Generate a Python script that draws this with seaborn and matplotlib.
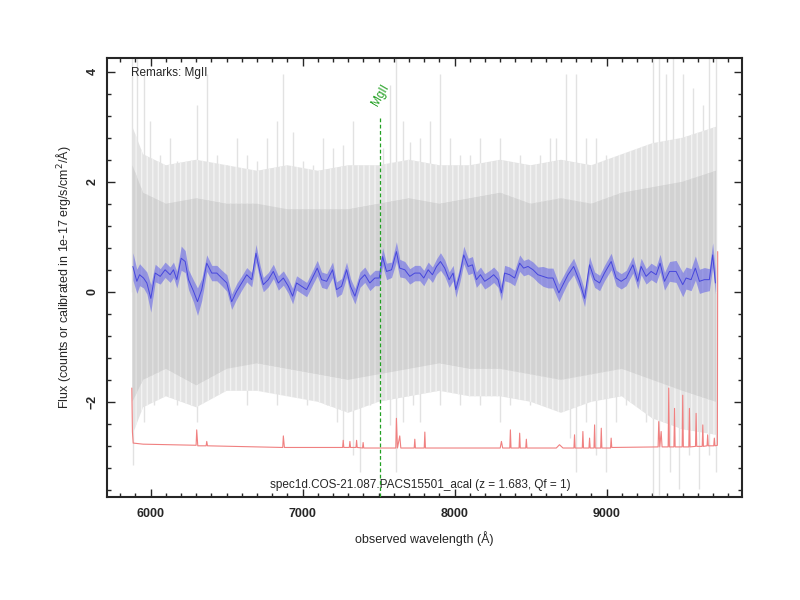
import matplotlib
matplotlib.use("Agg")
import matplotlib.pyplot as plt
from matplotlib.ticker import MultipleLocator
import seaborn as sns
import pandas as pd

# smoothed spectrum (blue) and its 1-sigma band
blue_wave = [5883, 5909, 5927, 5953, 5975, 6001, 6030, 6063, 6095, 6128, 6150, 6172,
             6201, 6227, 6249, 6282, 6308, 6336, 6369, 6402, 6435, 6468, 6501, 6533,
             6566, 6599, 6632, 6665, 6693, 6720, 6741, 6774, 6807, 6840, 6873, 6906,
             6934, 6960, 6993, 7026, 7059, 7096, 7125, 7158, 7197, 7223, 7256, 7289,
             7315, 7344, 7377, 7409, 7442, 7475, 7504, 7526, 7552, 7585, 7617, 7639,
             7672, 7705, 7738, 7771, 7797, 7826, 7854, 7881, 7907, 7935, 7964, 7990,
             8008, 8034, 8060, 8089, 8117, 8143, 8170, 8198, 8231, 8257, 8286, 8308,
             8329, 8362, 8395, 8428, 8454, 8483, 8516, 8548, 8581, 8614, 8647, 8686,
             8713, 8746, 8783, 8822, 8855, 8888, 8921, 8954, 8986, 9030, 9063, 9096,
             9129, 9173, 9205, 9227, 9260, 9293, 9326, 9352, 9381, 9414, 9457, 9501,
             9523, 9556, 9584, 9611, 9643, 9676, 9698, 9716]
blue_flux = [0.46, 0.19, 0.31, 0.25, 0.16, -0.12, 0.34, 0.28, 0.40, 0.31, 0.40, 0.22,
             0.61, 0.55, 0.22, 0.01, -0.18, 0.04, 0.52, 0.34, 0.34, 0.25, 0.16, -0.18,
             0.01, 0.16, 0.31, 0.22, 0.70, 0.34, 0.13, 0.22, 0.37, 0.16, 0.25, 0.10,
             -0.08, 0.16, 0.10, 0.04, 0.22, 0.43, 0.22, 0.19, 0.40, 0.04, 0.10, 0.40,
             0.10, -0.08, 0.22, 0.31, 0.16, 0.25, 0.25, 0.64, 0.37, 0.40, 0.73, 0.43,
             0.40, 0.28, 0.34, 0.34, 0.25, 0.40, 0.31, 0.46, 0.55, 0.43, 0.22, 0.34,
             0.04, 0.31, 0.67, 0.46, 0.49, 0.22, 0.31, 0.19, 0.25, 0.31, 0.22, -0.02,
             0.34, 0.31, 0.25, 0.52, 0.43, 0.46, 0.40, 0.31, 0.28, 0.25, 0.25, -0.02,
             0.13, 0.31, 0.46, 0.19, -0.12, 0.49, 0.22, 0.16, 0.34, 0.55, 0.25, 0.19,
             0.25, 0.49, 0.19, 0.46, 0.28, 0.37, 0.31, 0.52, 0.19, 0.37, 0.37, 0.13,
             0.25, 0.22, 0.43, 0.19, 0.22, 0.22, 0.67, 0.16]
blue_err = [0.25, 0.22, 0.20, 0.18, 0.20, 0.25, 0.16, 0.14, 0.14, 0.14, 0.14, 0.15,
            0.22, 0.20, 0.18, 0.20, 0.25, 0.20, 0.15, 0.14, 0.14, 0.14, 0.15, 0.14,
            0.14, 0.13, 0.13, 0.13, 0.16, 0.14, 0.13, 0.13, 0.13, 0.13, 0.13, 0.13,
            0.14, 0.13, 0.13, 0.13, 0.13, 0.14, 0.14, 0.14, 0.14, 0.14, 0.14, 0.14,
            0.14, 0.14, 0.14, 0.14, 0.14, 0.14, 0.14, 0.16, 0.15, 0.14, 0.18, 0.16,
            0.15, 0.14, 0.14, 0.14, 0.14, 0.14, 0.14, 0.14, 0.16, 0.15, 0.14, 0.14,
            0.14, 0.14, 0.16, 0.15, 0.15, 0.14, 0.14, 0.14, 0.14, 0.14, 0.14, 0.14,
            0.14, 0.14, 0.14, 0.15, 0.14, 0.14, 0.14, 0.14, 0.18, 0.18, 0.18, 0.16,
            0.15, 0.14, 0.15, 0.14, 0.15, 0.15, 0.14, 0.14, 0.14, 0.15, 0.14, 0.14,
            0.14, 0.15, 0.14, 0.15, 0.14, 0.15, 0.15, 0.16, 0.16, 0.18, 0.20, 0.22,
            0.20, 0.20, 0.22, 0.22, 0.22, 0.20, 0.22, 0.20]

# raw spectrum (grey): dense core band, looser middle band, outer spikes
band_wave = [5880, 5950, 6100, 6300, 6500, 6700, 6900, 7100, 7300, 7500, 7700,
             7900, 8100, 8300, 8500, 8700, 8900, 9100, 9300, 9500, 9720]
core_hi = [2.3, 1.8, 1.6, 1.7, 1.6, 1.6, 1.5, 1.5, 1.5, 1.6, 1.7,
           1.6, 1.7, 1.8, 1.6, 1.7, 1.6, 1.8, 1.9, 2.0, 2.2]
core_lo = [-2.0, -1.6, -1.4, -1.7, -1.4, -1.3, -1.4, -1.5, -1.6, -1.5, -1.4,
           -1.3, -1.4, -1.4, -1.5, -1.6, -1.5, -1.4, -1.6, -1.8, -2.0]
mid_hi = [3.0, 2.5, 2.3, 2.4, 2.3, 2.2, 2.3, 2.2, 2.3, 2.3, 2.4,
          2.3, 2.3, 2.4, 2.3, 2.4, 2.3, 2.5, 2.7, 2.8, 3.0]
mid_lo = [-2.6, -2.1, -1.9, -2.1, -1.8, -1.8, -1.9, -2.0, -2.2, -2.0, -1.9,
          -1.8, -1.9, -1.9, -2.0, -2.2, -2.0, -1.9, -2.3, -2.5, -2.6]

up_wave = [5876, 5909, 5953, 5997, 6063, 6128, 6172, 6238, 6303, 6369, 6435, 6501,
           6566, 6632, 6698, 6763, 6829, 6873, 6939, 7004, 7070, 7136, 7201, 7267,
           7333, 7398, 7464, 7530, 7574, 7617, 7661, 7705, 7771, 7837, 7902, 7968,
           8034, 8100, 8165, 8231, 8297, 8362, 8428, 8494, 8559, 8625, 8669, 8735,
           8800, 8866, 8932, 8997, 9063, 9129, 9195, 9260, 9304, 9348, 9392, 9435,
           9501, 9567, 9633, 9676, 9720]
up_flux = [4.5, 4.5, 3.95, 3.10, 2.49, 2.79, 2.37, 2.19, 3.40, 3.95, 2.49, 2.31,
           2.79, 2.49, 2.37, 2.79, 3.10, 3.95, 2.91, 2.37, 2.31, 2.79, 2.61, 2.67,
           3.10, 2.19, 2.00, 2.61, 3.76, 4.5, 3.10, 2.73, 2.79, 3.10, 3.95, 2.79,
           2.49, 2.49, 2.79, 2.31, 2.79, 2.19, 2.49, 2.31, 2.49, 2.79, 2.79, 3.95,
           3.95, 2.79, 2.79, 2.49, 2.31, 2.37, 2.49, 2.61, 4.5, 4.5, 3.95, 4.5,
           3.95, 3.70, 3.40, 4.5, 4.5]
dn_wave = [5887, 5953, 6019, 6085, 6172, 6238, 6303, 6369, 6435, 6501, 6566, 6632,
           6698, 6763, 6829, 6895, 6960, 7026, 7092, 7158, 7223, 7267, 7333, 7377,
           7442, 7508, 7574, 7617, 7661, 7727, 7771, 7837, 7902, 7968, 8034, 8100,
           8165, 8231, 8297, 8362, 8428, 8494, 8559, 8625, 8691, 8757, 8800, 8866,
           8932, 8997, 9063, 9129, 9195, 9260, 9304, 9348, 9414, 9479, 9545, 9611,
           9676, 9720]
dn_flux = [-3.15, -2.36, -2.05, -1.75, -2.05, -1.75, -2.36, -1.75, -1.45, -1.75, -1.63, -2.05,
           -1.75, -1.45, -2.05, -1.75, -1.75, -2.05, -1.75, -2.05, -2.36, -2.72, -2.96, -3.27,
           -2.05, -1.75, -2.42, -3.27, -2.36, -2.05, -2.36, -1.75, -2.05, -1.75, -2.05, -1.75,
           -2.05, -1.75, -2.36, -2.05, -1.75, -2.05, -1.75, -1.75, -2.05, -2.66, -3.27, -2.36,
           -2.96, -3.27, -2.36, -2.05, -2.05, -2.36, -3.7, -3.7, -3.27, -3.58, -2.96, -3.58,
           -2.96, -3.27]

# error spectrum (red), offset to the bottom of the panel
red_wave = [5876, 5880, 5885, 5950, 6299, 6303, 6310, 6365, 6369, 6374, 6869, 6873,
            6880, 7263, 7267, 7271, 7307, 7311, 7315, 7351, 7355, 7359, 7394, 7398,
            7402, 7613, 7617, 7624, 7639, 7646, 7734, 7738, 7742, 7800, 7804, 7808,
            8300, 8308, 8316, 8363, 8367, 8371, 8424, 8428, 8432, 8468, 8472, 8476,
            8669, 8690, 8713, 8785, 8789, 8793, 8840, 8844, 8848, 8884, 8888, 8892,
            8917, 8921, 8925, 8961, 8965, 8969, 9026, 9030, 9034, 9339, 9343, 9350,
            9359, 9365, 9405, 9409, 9413, 9443, 9447, 9451, 9497, 9501, 9505, 9541,
            9545, 9549, 9585, 9589, 9593, 9629, 9633, 9637, 9661, 9665, 9669, 9705,
            9709, 9713, 9729, 9731]
red_flux = [-1.75, -2.55, -2.75, -2.77, -2.79, -2.51, -2.80, -2.80, -2.72, -2.80, -2.83, -2.62,
            -2.83, -2.83, -2.70, -2.83, -2.83, -2.72, -2.83, -2.83, -2.70, -2.83, -2.84, -2.74,
            -2.84, -2.84, -2.30, -2.84, -2.62, -2.84, -2.84, -2.68, -2.84, -2.84, -2.55, -2.84,
            -2.84, -2.72, -2.84, -2.84, -2.51, -2.84, -2.84, -2.57, -2.84, -2.84, -2.68, -2.84,
            -2.84, -2.78, -2.84, -2.84, -2.60, -2.84, -2.84, -2.54, -2.84, -2.84, -2.66, -2.84,
            -2.84, -2.42, -2.84, -2.84, -2.48, -2.84, -2.84, -2.66, -2.83, -2.82, -2.36, -2.82,
            -2.54, -2.82, -2.82, -1.75, -2.82, -2.82, -2.12, -2.82, -2.82, -1.88, -2.82, -2.82,
            -2.12, -2.82, -2.81, -2.21, -2.81, -2.81, -2.42, -2.81, -2.80, -2.60, -2.80, -2.80,
            -2.66, -2.80, -2.79, 0.73]

line_name = "MgII"
line_wave = 7507
title = "spec1d.COS-21.087.PACS15501_acal (z = 1.683, Qf = 1)"

sns.set_style("ticks")
plt.rcParams['font.family'] = ['Liberation Sans', 'DejaVu Sans']
plt.rcParams['hatch.linewidth'] = 1.0

fig = plt.figure(figsize=(8, 6), dpi=100)
ax = fig.add_axes([0.134, 0.1717, 0.7937, 0.7317])

# streaky look of the noisy raw spectrum
ax.vlines(up_wave, 0, up_flux, color='#e2e2e2', lw=1.0, zorder=1)
ax.vlines(dn_wave, dn_flux, 0, color='#e2e2e2', lw=1.0, zorder=1)
ax.fill_between(band_wave, mid_lo, mid_hi, facecolor='#e3e3e3', edgecolor='#f3f3f3',
                hatch='|||', lw=0, zorder=1.5)
ax.fill_between(band_wave, core_lo, core_hi, facecolor='#d2d2d2', edgecolor='#e0e0e0',
                hatch='|||', lw=0, zorder=2)

blue = pd.DataFrame({'wave': blue_wave, 'flux': blue_flux, 'err': blue_err})
ax.fill_between(blue['wave'], blue['flux'] - blue['err'], blue['flux'] + blue['err'],
                color='#4545ee', alpha=0.45, lw=0, zorder=3)
sns.lineplot(data=blue, x='wave', y='flux', ax=ax, color='#4646dc', lw=0.7,
             estimator=None, sort=False, zorder=4)

sns.lineplot(x=red_wave, y=red_flux, ax=ax, color='#f08080', lw=0.8,
             estimator=None, sort=False, zorder=3)

ax.plot([line_wave, line_wave], [3.16, -3.73], color='#22a022', lw=0.9,
        ls=(0, (3, 2)), zorder=5)
ax.text(line_wave + 5, 3.58, line_name, color='#22a022', fontsize=8.5,
        rotation=60, ha='center', va='center')

ax.text(0.038, 0.966, "Remarks: MgII", transform=ax.transAxes, fontsize=8.5,
        ha='left', va='center')
ax.text(0.493, 0.027, title, transform=ax.transAxes, fontsize=8.5,
        ha='center', va='center')

ax.set_xlim(5714, 9892)
ax.set_ylim(-3.73, 4.25)
ax.xaxis.set_major_locator(MultipleLocator(1000))
ax.xaxis.set_minor_locator(MultipleLocator(100))
ax.yaxis.set_major_locator(MultipleLocator(2))
ax.yaxis.set_minor_locator(MultipleLocator(0.4))
ax.tick_params(which='both', direction='in', top=True, right=True, width=1)
ax.tick_params(which='major', length=6)
ax.tick_params(which='minor', length=3)
ax.tick_params(axis='x', labelsize=9, pad=8)
ax.tick_params(axis='y', labelsize=9, pad=6, labelrotation=90)
for lab in ax.get_xticklabels() + ax.get_yticklabels():
    lab.set_fontweight('bold')
for lab in ax.get_yticklabels():
    lab.set_va('center')
for sp in ax.spines.values():
    sp.set_linewidth(1.5)

ax.set_xlabel("observed wavelength (Å)", fontsize=9, labelpad=8)
ax.set_ylabel("Flux (counts or calibrated in 1e-17 erg/s/cm$^2$/Å)", fontsize=9, labelpad=10)

fig.savefig("out.png", dpi=100, facecolor='white')
